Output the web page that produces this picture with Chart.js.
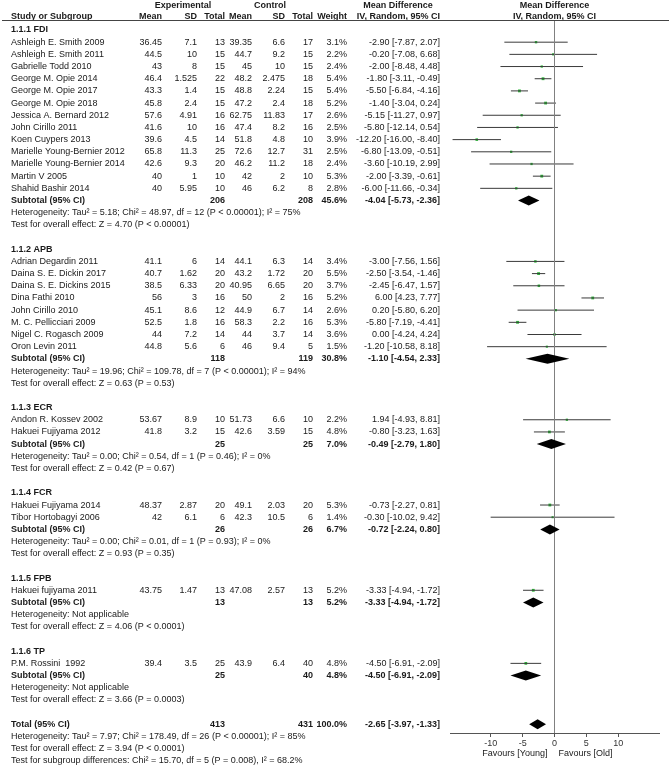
<!DOCTYPE html>
<html><head><meta charset="utf-8">
<script src="https://cdn.jsdelivr.net/npm/chart.js@4.4.0/dist/chart.umd.min.js"></script>
<style>html,body{margin:0;padding:0;background:#fff;}canvas{display:block;}</style>
</head><body>
<canvas id="c" width="669" height="765" style="width:669px;height:765px"></canvas>
<script>
// ---------------- DATA ----------------
const groupNames = ['1.1.1 FDI','1.1.2 APB','1.1.3 ECR','1.1.4 FCR','1.1.5 FPB','1.1.6 TP'];
const studyNames = [
 'Ashleigh E. Smith 2009','Ashleigh E. Smith 2011','Gabrielle Todd 2010','George M. Opie 2014','George M. Opie 2017',
 'George M. Opie 2018','Jessica A. Bernard 2012','John Cirillo 2011','Koen Cuypers 2013','Marielle Young-Bernier 2012',
 'Marielle Young-Bernier 2014','Martin V 2005','Shahid Bashir 2014',
 'Adrian Degardin 2011','Daina S. E. Dickin 2017','Daina S. E. Dickins 2015','Dina Fathi 2010','John Cirillo 2010',
 'M. C. Pellicciari 2009','Nigel C. Rogasch 2009','Oron Levin 2011',
 'Andon R. Kossev 2002','Hakuei Fujiyama 2012',
 'Hakuei Fujiyama 2014','Tibor Hortobagyi 2006',
 'Hakuei fujiyama 2011',
 'P.M. Rossini  1992'];
const studyGroup = [0,0,0,0,0,0,0,0,0,0,0,0,0, 1,1,1,1,1,1,1,1, 2,2, 3,3, 4, 5];
const expMean = [36.45,44.5,43,46.4,43.3,45.8,57.6,41.6,39.6,65.8,42.6,40,40, 41.1,40.7,38.5,56,45.1,52.5,44,44.8, 53.67,41.8, 48.37,42, 43.75, 39.4];
const expSD   = [7.1,10,8,1.525,1.4,2.4,4.91,10,4.5,11.3,9.3,1,5.95, 6,1.62,6.33,3,8.6,1.8,7.2,5.6, 8.9,3.2, 2.87,6.1, 1.47, 3.5];
const expN    = [13,15,15,22,15,15,16,16,14,25,20,10,10, 14,20,20,16,12,16,14,6, 10,15, 20,6, 13, 25];
const ctlMean = [39.35,44.7,45,48.2,48.8,47.2,62.75,47.4,51.8,72.6,46.2,42,46, 44.1,43.2,40.95,50,44.9,58.3,44,46, 51.73,42.6, 49.1,42.3, 47.08, 43.9];
const ctlSD   = [6.6,9.2,10,2.475,2.24,2.4,11.83,8.2,4.8,12.7,11.2,2,6.2, 6.3,1.72,6.65,2,6.7,2.2,3.7,9.4, 6.6,3.59, 2.03,10.5, 2.57, 6.4];
const ctlN    = [17,15,15,18,15,18,17,16,10,31,18,10,8, 14,20,20,16,14,16,14,5, 10,15, 20,6, 13, 40];
const weight  = [3.1,2.2,2.4,5.4,5.4,5.2,2.6,2.5,3.9,2.5,2.4,5.3,2.8, 3.4,5.5,3.7,5.2,2.6,5.3,3.6,1.5, 2.2,4.8, 5.3,1.4, 5.2, 4.8];
const md      = [-2.90,-0.20,-2.00,-1.80,-5.50,-1.40,-5.15,-5.80,-12.20,-6.80,-3.60,-2.00,-6.00, -3.00,-2.50,-2.45,6.00,0.20,-5.80,0.00,-1.20, 1.94,-0.80, -0.73,-0.30, -3.33, -4.50];
const ciLow   = [-7.87,-7.08,-8.48,-3.11,-6.84,-3.04,-11.27,-12.14,-16.00,-13.09,-10.19,-3.39,-11.66, -7.56,-3.54,-6.47,4.23,-5.80,-7.19,-4.24,-10.58, -4.93,-3.23, -2.27,-10.02, -4.94, -6.91];
const ciHigh  = [2.07,6.68,4.48,-0.49,-4.16,0.24,0.97,0.54,-8.40,-0.51,2.99,-0.61,-0.34, 1.56,-1.46,1.57,7.77,6.20,-4.41,4.24,8.18, 8.81,1.63, 0.81,9.42, -1.72, -2.09];

const subExpN   = [206,118,25,26,13,25];
const subCtlN   = [208,119,25,26,13,40];
const subWeight = [45.6,30.8,7.0,6.7,5.2,4.8];
const subMD     = [-4.04,-1.10,-0.49,-0.72,-3.33,-4.50];
const subLow    = [-5.73,-4.54,-2.79,-2.24,-4.94,-6.91];
const subHigh   = [-2.36,2.33,1.80,0.80,-1.72,-2.09];
const subHet = [
 'Heterogeneity: Tau\u00b2 = 5.18; Chi\u00b2 = 48.97, df = 12 (P < 0.00001); I\u00b2 = 75%',
 'Heterogeneity: Tau\u00b2 = 19.96; Chi\u00b2 = 109.78, df = 7 (P < 0.00001); I\u00b2 = 94%',
 'Heterogeneity: Tau\u00b2 = 0.00; Chi\u00b2 = 0.54, df = 1 (P = 0.46); I\u00b2 = 0%',
 'Heterogeneity: Tau\u00b2 = 0.00; Chi\u00b2 = 0.01, df = 1 (P = 0.93); I\u00b2 = 0%',
 'Heterogeneity: Not applicable',
 'Heterogeneity: Not applicable'];
const subTest = [
 'Test for overall effect: Z = 4.70 (P < 0.00001)',
 'Test for overall effect: Z = 0.63 (P = 0.53)',
 'Test for overall effect: Z = 0.42 (P = 0.67)',
 'Test for overall effect: Z = 0.93 (P = 0.35)',
 'Test for overall effect: Z = 4.06 (P < 0.0001)',
 'Test for overall effect: Z = 3.66 (P = 0.0003)'];

const totalExpN = 413, totalCtlN = 431, totalWeight = 100.0;
const totalMD = -2.65, totalLow = -3.97, totalHigh = -1.33;
const totalLines = [
 'Heterogeneity: Tau\u00b2 = 7.97; Chi\u00b2 = 178.49, df = 26 (P < 0.00001); I\u00b2 = 85%',
 'Test for overall effect: Z = 3.94 (P < 0.0001)',
 'Test for subgroup differences: Chi\u00b2 = 15.70, df = 5 (P = 0.008), I\u00b2 = 68.2%'];

const xTicks = [-10,-5,0,5,10];
const favourLeft = 'Favours [Young]', favourRight = 'Favours [Old]';

// ---------------- LAYOUT ----------------
const FONT = '"Liberation Sans", Arial, sans-serif';
const TEXT = '#1a1a1a';
const ROW0 = 30, PITCH = 12.18, TOPPX = 21, BOTPX = 733;
const Y_MIN = (TOPPX - ROW0) / PITCH, Y_MAX = (BOTPX - ROW0) / PITCH;
const X_MIN = -16.4, X_MAX = 16.4;
const COL = {name: 11, eMean: 162, eSD: 197, eN: 225, cMean: 252, cSD: 285, cN: 313, w: 347, ci: 440};

// row assignments
const groupRow = [], studyRow = [], subRow = [];
let rr = 0;
groupNames.forEach((g, gi) => {
  groupRow[gi] = rr++;
  studyNames.forEach((s, i) => { if (studyGroup[i] === gi) studyRow[i] = rr++; });
  subRow[gi] = rr; rr += 4;
});
const totalRow = rr;

const fmtCI = (m, l, h) => `${m.toFixed(2)} [${l.toFixed(2)}, ${h.toFixed(2)}]`;

// ---------------- DATASETS ----------------
const datasets = [];
datasets.push({ type: 'line', data: [{x: 0, y: Y_MIN}, {x: 0, y: Y_MAX}], borderColor: '#808080', borderWidth: 1, pointRadius: 0, fill: false });
studyNames.forEach((s, i) => {
  datasets.push({ type: 'line', data: [{x: ciLow[i], y: studyRow[i]}, {x: ciHigh[i], y: studyRow[i]}], borderColor: '#3a3a3a', borderWidth: 1, pointRadius: 0, fill: false });
});
datasets.push({ type: 'scatter', data: md.map((m, i) => ({x: m, y: studyRow[i]})), pointStyle: 'rect', pointRadius: weight.map(w => 1.3 + w * 0.13), backgroundColor: '#2dbb3a', borderWidth: 0 });

const diamondPlugin = {
  id: 'diamonds',
  afterDatasetsDraw(chart) {
    const ctx = chart.ctx, xs = chart.scales.x, ys = chart.scales.y;
    const items = subMD.map((m, i) => [m, subLow[i], subHigh[i], subRow[i]]);
    items.push([totalMD, totalLow, totalHigh, totalRow]);
    ctx.save();
    ctx.fillStyle = '#000';
    items.forEach(([m, l, h, r]) => {
      const y = ys.getPixelForValue(r), hh = 5;
      ctx.beginPath();
      ctx.moveTo(xs.getPixelForValue(l), y);
      ctx.lineTo(xs.getPixelForValue(m), y - hh);
      ctx.lineTo(xs.getPixelForValue(h), y);
      ctx.lineTo(xs.getPixelForValue(m), y + hh);
      ctx.closePath();
      ctx.fill();
    });
    ctx.restore();
  }
};

const tablePlugin = {
  id: 'table',
  afterDraw(chart) {
    const ctx = chart.ctx, ys = chart.scales.y, xs = chart.scales.x;
    ctx.save();
    ctx.textBaseline = 'middle';
    ctx.fillStyle = TEXT;
    const put = (s, x, r, align, bold) => {
      ctx.font = (bold ? 'bold ' : '') + '9px ' + FONT;
      ctx.textAlign = align;
      ctx.fillText(String(s), x, ys.getPixelForValue(r));
    };
    // headers
    put('Experimental', 183, -2.0, 'center', true);
    put('Control', 270, -2.0, 'center', true);
    put('Mean Difference', 398, -2.0, 'center', true);
    put('Mean Difference', xs.getPixelForValue(0), -2.0, 'center', true);
    put('Study or Subgroup', COL.name, -1.12, 'left', true);
    put('Mean', COL.eMean, -1.12, 'right', true);
    put('SD', COL.eSD, -1.12, 'right', true);
    put('Total', COL.eN, -1.12, 'right', true);
    put('Mean', COL.cMean, -1.12, 'right', true);
    put('SD', COL.cSD, -1.12, 'right', true);
    put('Total', COL.cN, -1.12, 'right', true);
    put('Weight', COL.w, -1.12, 'right', true);
    put('IV, Random, 95% CI', COL.ci, -1.12, 'right', true);
    put('IV, Random, 95% CI', xs.getPixelForValue(0), -1.12, 'center', true);
    // header rule
    ctx.strokeStyle = '#444';
    ctx.lineWidth = 1;
    ctx.beginPath();
    ctx.moveTo(2, TOPPX - 0.5); ctx.lineTo(669, TOPPX - 0.5);
    ctx.stroke();
    // groups
    groupNames.forEach((g, gi) => {
      put(g, COL.name, groupRow[gi], 'left', true);
      studyNames.forEach((s, i) => {
        if (studyGroup[i] !== gi) return;
        const r = studyRow[i];
        put(s, COL.name, r, 'left', false);
        put(expMean[i], COL.eMean, r, 'right');
        put(expSD[i], COL.eSD, r, 'right');
        put(expN[i], COL.eN, r, 'right');
        put(ctlMean[i], COL.cMean, r, 'right');
        put(ctlSD[i], COL.cSD, r, 'right');
        put(ctlN[i], COL.cN, r, 'right');
        put(weight[i].toFixed(1) + '%', COL.w, r, 'right');
        put(fmtCI(md[i], ciLow[i], ciHigh[i]), COL.ci, r, 'right');
      });
      const r = subRow[gi];
      put('Subtotal (95% CI)', COL.name, r, 'left', true);
      put(subExpN[gi], COL.eN, r, 'right', true);
      put(subCtlN[gi], COL.cN, r, 'right', true);
      put(subWeight[gi].toFixed(1) + '%', COL.w, r, 'right', true);
      put(fmtCI(subMD[gi], subLow[gi], subHigh[gi]), COL.ci, r, 'right', true);
      put(subHet[gi], COL.name, r + 1, 'left');
      put(subTest[gi], COL.name, r + 2, 'left');
    });
    put('Total (95% CI)', COL.name, totalRow, 'left', true);
    put(totalExpN, COL.eN, totalRow, 'right', true);
    put(totalCtlN, COL.cN, totalRow, 'right', true);
    put(totalWeight.toFixed(1) + '%', COL.w, totalRow, 'right', true);
    put(fmtCI(totalMD, totalLow, totalHigh), COL.ci, totalRow, 'right', true);
    totalLines.forEach((t, k) => put(t, COL.name, totalRow + 1 + k, 'left'));
    // favours labels
    const zx = xs.getPixelForValue(0);
    ctx.font = '9px ' + FONT;
    ctx.textAlign = 'right';
    ctx.fillText(favourLeft, zx - 7, chart.chartArea.bottom + 21);
    ctx.textAlign = 'left';
    ctx.fillText(favourRight, zx + 4, chart.chartArea.bottom + 21);
    ctx.restore();
  }
};

new Chart(document.getElementById('c'), {
  type: 'scatter',
  data: { datasets },
  options: {
    responsive: false,
    animation: false,
    devicePixelRatio: 1,
    layout: { padding: { left: 450, right: 10, top: TOPPX, bottom: 0 } },
    plugins: { legend: { display: false }, tooltip: { enabled: false } },
    scales: {
      x: {
        type: 'linear', min: X_MIN, max: X_MAX,
        afterBuildTicks: (axis) => { axis.ticks = xTicks.map(v => ({ value: v })); },
        afterFit: (axis) => { axis.height = 765 - BOTPX; },
        ticks: { color: '#333', font: { size: 9, family: FONT }, padding: 1, autoSkip: false, maxRotation: 0 },
        grid: { drawOnChartArea: false, drawTicks: true, tickLength: 4, color: '#555' },
        border: { display: true, color: '#555' }
      },
      y: { type: 'linear', reverse: true, min: Y_MIN, max: Y_MAX, display: false }
    }
  },
  plugins: [diamondPlugin, tablePlugin]
});
</script>
</body></html>
